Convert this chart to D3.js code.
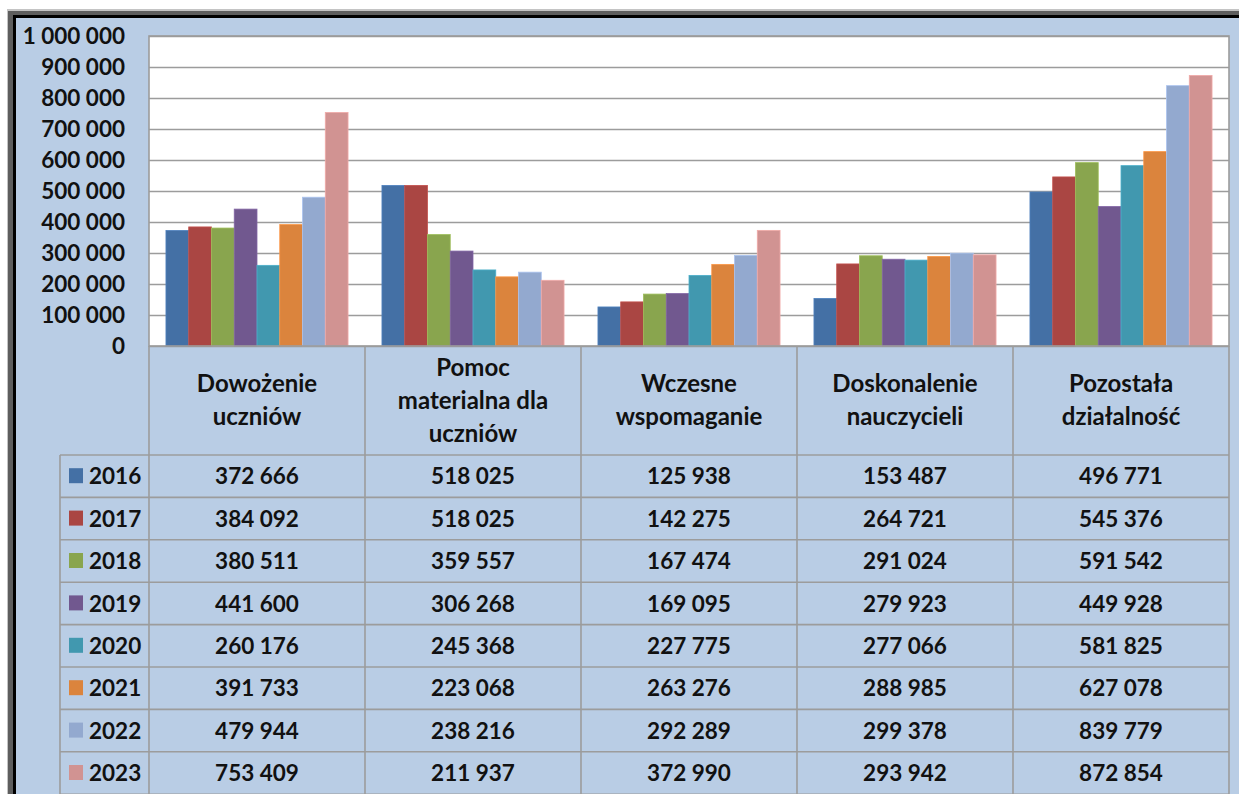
<!DOCTYPE html>
<html>
<head>
<meta charset="utf-8">
<script src="https://cdn.jsdelivr.net/npm/d3@7"></script>
<style>
  body { margin: 0; background: #fff; }
  svg text { font-family: "Lato", "Open Sans", sans-serif; font-weight: bold; fill: #111; }
</style>
</head>
<body>
<script>
// kategorie (naglowki tabeli) - kazda linia osobno
var categories = [
  ["Dowożenie", "uczniów"],
  ["Pomoc", "materialna dla", "uczniów"],
  ["Wczesne", "wspomaganie"],
  ["Doskonalenie", "nauczycieli"],
  ["Pozostała", "działalność"]
];
var years = ["2016", "2017", "2018", "2019", "2020", "2021", "2022", "2023"];
var colors = ["#4470A5", "#AA4643", "#89A54E", "#71588F", "#4198AF", "#DB843D", "#93A9CF", "#D19392"];

// wartosci dla kazdego roku, w kolejnosci kategorii
var v2016 = [372666, 518025, 125938, 153487, 496771];
var v2017 = [384092, 518025, 142275, 264721, 545376];
var v2018 = [380511, 359557, 167474, 291024, 591542];
var v2019 = [441600, 306268, 169095, 279923, 449928];
var v2020 = [260176, 245368, 227775, 277066, 581825];
var v2021 = [391733, 223068, 263276, 288985, 627078];
var v2022 = [479944, 238216, 292289, 299378, 839779];
var v2023 = [753409, 211937, 372990, 293942, 872854];
var series = [v2016, v2017, v2018, v2019, v2020, v2021, v2022, v2023];

var yTicks = [0, 100000, 200000, 300000, 400000, 500000, 600000, 700000, 800000, 900000, 1000000];

var W = 1239, H = 794;
var plot = { left: 149, right: 1229, top: 36, bottom: 346 };
var tableTop = 455, rowH = 42.4, legendLeft = 60;
var gridColor = "#9c9c9c";
var numSize = "22.5px", headSize = "24px";

var fmt = d3.formatLocale({ decimal: ",", thousands: " ", grouping: [3], currency: ["", " zł"] }).format(",d");

var svg = d3.select("body").append("svg")
    .attr("width", W)
    .attr("height", H);

// ramka okna
svg.append("rect").attr("x", 7).attr("y", 9).attr("width", W).attr("height", H).attr("fill", "#c4c4c4");
svg.append("rect").attr("x", 8).attr("y", 11).attr("width", W).attr("height", H).attr("fill", "#5e5e5e");
svg.append("rect").attr("x", 13).attr("y", 15).attr("width", W).attr("height", H).attr("fill", "#000");
svg.append("rect").attr("x", 16).attr("y", 18).attr("width", W).attr("height", H).attr("fill", "#B9CDE5");

// skale
var x0 = d3.scaleBand()
    .domain(d3.range(categories.length))
    .range([plot.left, plot.right])
    .paddingInner(0.157)
    .paddingOuter(0.0785);

var x1 = d3.scaleBand()
    .domain(years)
    .range([0, x0.bandwidth()]);

var y = d3.scaleLinear()
    .domain([0, 1000000])
    .range([plot.bottom, plot.top]);

var step = x0.step();
var colLeft = function(i) { return plot.left + i * step; };

// obszar wykresu
svg.append("rect")
    .attr("x", plot.left).attr("y", plot.top)
    .attr("width", plot.right - plot.left).attr("height", plot.bottom - plot.top)
    .attr("fill", "#fff");

// linie siatki
var yAxis = d3.axisLeft(y).tickValues(yTicks).tickSize(-(plot.right - plot.left)).tickFormat(fmt);
var gy = svg.append("g")
    .attr("transform", "translate(" + plot.left + ",0)")
    .call(yAxis);
gy.select(".domain").remove();
gy.selectAll(".tick line").attr("stroke", gridColor).attr("stroke-width", 1.6);
gy.selectAll(".tick text")
    .attr("x", 125 - plot.left)
    .attr("font-size", numSize)
    .attr("fill", "#111");

// slupki
var groups = svg.selectAll(".year")
    .data(series)
    .enter().append("g")
    .attr("class", "year");

groups.selectAll("rect")
    .data(function(d, s) { return d.map(function(v, i) { return { v: v, i: i, s: s }; }); })
    .enter().append("rect")
    .attr("x", function(d) { return x0(d.i) + x1(years[d.s]); })
    .attr("width", x1.bandwidth())
    .attr("y", function(d) { return y(d.v); })
    .attr("height", function(d) { return plot.bottom - y(d.v); })
    .attr("fill", function(d) { return colors[d.s]; })
    .attr("stroke", function(d) { return d3.color(colors[d.s]).brighter(0.4); })
    .attr("stroke-width", 0.8);

// ramka obszaru
svg.append("rect")
    .attr("x", plot.left).attr("y", plot.top)
    .attr("width", plot.right - plot.left).attr("height", plot.bottom - plot.top)
    .attr("fill", "none")
    .attr("stroke", gridColor).attr("stroke-width", 1.6);

// tabela danych
var table = svg.append("g").attr("class", "table");
var nRows = years.length;
var tableBottom = tableTop + nRows * rowH;

// linie poziome
d3.range(nRows + 1).forEach(function(r) {
  table.append("line")
      .attr("x1", legendLeft).attr("x2", plot.right)
      .attr("y1", tableTop + r * rowH).attr("y2", tableTop + r * rowH)
      .attr("stroke", gridColor).attr("stroke-width", 1.6);
});

// linie pionowe
d3.range(categories.length + 1).forEach(function(i) {
  table.append("line")
      .attr("x1", colLeft(i)).attr("x2", colLeft(i))
      .attr("y1", plot.bottom).attr("y2", tableBottom)
      .attr("stroke", gridColor).attr("stroke-width", 1.6);
});
table.append("line")
    .attr("x1", legendLeft).attr("x2", legendLeft)
    .attr("y1", tableTop).attr("y2", tableBottom)
    .attr("stroke", gridColor).attr("stroke-width", 1.6);

// naglowki kategorii
var headMid = (plot.bottom + tableTop) / 2;
categories.forEach(function(lines, i) {
  var cx = colLeft(i) + step / 2;
  lines.forEach(function(t, k) {
    table.append("text")
        .attr("x", cx)
        .attr("y", headMid + (k - (lines.length - 1) / 2) * 33)
        .attr("dy", "0.35em")
        .attr("text-anchor", "middle")
        .attr("font-size", headSize)
        .text(t);
  });
});

// wiersze z legenda i wartosciami
years.forEach(function(yr, r) {
  var cy = tableTop + r * rowH + rowH / 2;
  table.append("rect")
      .attr("x", 69).attr("y", cy - 8)
      .attr("width", 14).attr("height", 15)
      .attr("fill", colors[r]);
  table.append("text")
      .attr("x", 89).attr("y", cy)
      .attr("dy", "0.36em")
      .attr("font-size", numSize)
      .text(yr);
  series[r].forEach(function(v, i) {
    table.append("text")
        .attr("x", colLeft(i) + step / 2)
        .attr("y", cy)
        .attr("dy", "0.36em")
        .attr("text-anchor", "middle")
        .attr("font-size", numSize)
        .text(fmt(v));
  });
});
</script>
</body>
</html>
